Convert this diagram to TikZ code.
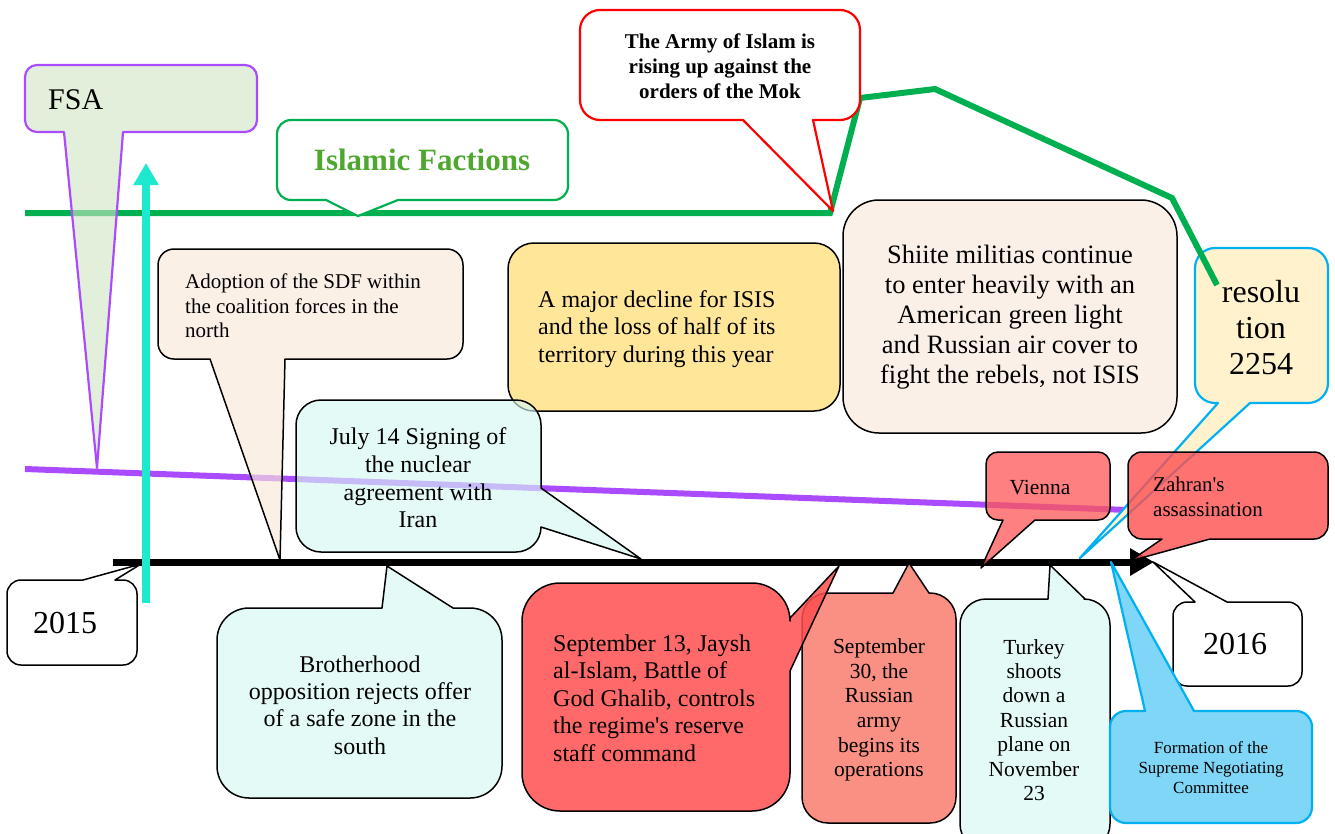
\documentclass[tikz,border=0pt]{standalone}
\usepackage{fontspec}
\setmainfont{Liberation Serif}
\usetikzlibrary{arrows.meta}

\definecolor{peach}{HTML}{FBF0E7}
\definecolor{peachsoft}{HTML}{F9E8D9}
\definecolor{icecyan}{HTML}{E4FAF7}
\definecolor{icesoft}{HTML}{D6F7F3}
\definecolor{fsagreen}{HTML}{CFE4C1}
\definecolor{isisgold}{HTML}{FFE699}
\definecolor{paleyellow}{HTML}{FFF2CC}
\definecolor{rose}{HTML}{FF5656}
\definecolor{redbox}{HTML}{FF4F4F}
\definecolor{salmon}{HTML}{F99083}
\definecolor{skyblue}{HTML}{80D6F6}
\definecolor{cyanline}{HTML}{00B0F0}
\definecolor{factgreen}{HTML}{00B050}
\definecolor{facttext}{HTML}{4EA72E}
\definecolor{fsapurple}{HTML}{AA4BFF}
\definecolor{turq}{HTML}{1DE9CF}

\tikzset{
  bubble/.style={draw=black, line width=1.5pt, line join=round},
  tinted/.style={bubble, draw=#1, line width=2.2pt},
  blurb/.style={inner sep=0pt, align=center},
  sz/.style 2 args={font=\fontsize{#1}{#2}\selectfont},
  szb/.style 2 args={font=\fontsize{#1}{#2}\selectfont\bfseries},
}

\begin{document}
\begin{tikzpicture}[x=1pt,y=-1pt]
\useasboundingbox (0,0) rectangle (1335,833);

% factions lines
\draw[fsapurple, line width=6pt] (25,469) -- (1128,510);
\filldraw[tinted=cyanline, fill=paleyellow] (1261,248) [rounded corners=20pt] -- (1328,248) -- (1328,403) [sharp corners] -- (1250,403) -- (1080,558) -- (1218,403) [rounded corners=20pt] -- (1195,403) -- (1195,248) -- cycle;
\node[blurb, sz={32}{36}] (res) at (1261,328) {resolu\\tion\\2254};
\draw[factgreen, line width=6pt] (25,213) -- (830,213) -- (860,98) -- (935,89) -- (1172,198) -- (1217,285);

% timeline
\draw[line width=7pt, -{Triangle[width=26pt,length=24pt]}] (113,562) -- (1154,562);

% upper bubbles
\filldraw[tinted=fsapurple, fill=fsagreen, fill opacity=0.6] (141,65) [rounded corners=12pt] -- (257,65) -- (257,132) [sharp corners] -- (123,132) -- (97,468) -- (64,132) [rounded corners=12pt] -- (25,132) -- (25,65) -- cycle;
\node[blurb, sz={30}{36}, anchor=west] (fsa) at (48,100) {FSA};

\filldraw[tinted=factgreen, fill=white] (422,120) [rounded corners=14pt] -- (568,120) -- (568,200) [sharp corners] -- (398,200) -- (358,216) -- (326,200) [rounded corners=14pt] -- (277,200) -- (277,120) -- cycle;
\node[blurb, szb={31}{36}, text=facttext] (islamic) at (422,160) {Islamic Factions};

\filldraw[tinted=red, fill=white] (720,10) [rounded corners=20pt] -- (860,10) -- (860,120) [sharp corners] -- (813,120) -- (833,211) -- (743,120) [rounded corners=20pt] -- (580,120) -- (580,10) -- cycle;
\node[blurb, szb={21}{25}] (army) at (720,66) {The Army of Islam is\\rising up against the\\orders of the Mok};

\filldraw[bubble, fill=peachsoft, fill opacity=0.65] (310,249) [rounded corners=16pt] -- (463,249) -- (463,359) [sharp corners] -- (285,359) -- (280,560) -- (210,359) [rounded corners=16pt] -- (158,359) -- (158,249) -- cycle;
\node[blurb, sz={21}{24.5}, align=left, anchor=west] (sdf) at (185,306) {Adoption of the SDF within\\the coalition forces in the\\north};

\filldraw[bubble, fill=isisgold, rounded corners=26pt] (508,243) rectangle (840,411);
\node[blurb, sz={24}{27.5}, align=left, anchor=west] (isis) at (538,329) {A major decline for ISIS\\and the loss of half of its\\territory during this year};

\filldraw[bubble, fill=icesoft, fill opacity=0.65] (418,400) [rounded corners=25pt] -- (541,400) [sharp corners] -- (541,488) -- (641,559) -- (541,527) [rounded corners=25pt] -- (541,552) -- (296,552) -- (296,400) -- cycle;
\node[blurb, sz={24}{27.7}] (nuclear) at (418,478) {July 14 Signing of\\the nuclear\\agreement with\\Iran};

\filldraw[bubble, fill=peach, rounded corners=36pt] (843,200) rectangle (1177,433);
\node[blurb, sz={26.5}{30}] (shiite) at (1010,317) {Shiite militias continue\\to enter heavily with an\\American green light\\and Russian air cover to\\fight the rebels, not ISIS};

\filldraw[bubble, fill=rose, fill opacity=0.75] (1048,452) [rounded corners=12pt] -- (1110,452) -- (1110,520) [sharp corners] -- (1035,520) -- (981,568) -- (1003,520) [rounded corners=12pt] -- (986,520) -- (986,452) -- cycle;
\node[blurb, sz={21.5}{25}] (vienna) at (1040,488) {Vienna};

\filldraw[bubble, fill=redbox, fill opacity=0.8] (1228,452) [rounded corners=14pt] -- (1328,452) -- (1328,539) [sharp corners] -- (1210,539) -- (1130,561) -- (1162,539) [rounded corners=14pt] -- (1128,539) -- (1128,452) -- cycle;
\node[blurb, sz={21}{25}, align=left, anchor=west] (zahran) at (1153,497) {Zahran\textquotesingle s\\assassination};

% lower bubbles
\filldraw[bubble, fill=white] (72,665) [rounded corners=14pt] -- (7,665) -- (7,580) [sharp corners] -- (83,580) -- (141,564) -- (115,580) [rounded corners=14pt] -- (137,580) -- (137,665) -- cycle;
\node[blurb, sz={32}{36}] (y2015) at (65,623) {2015};

\filldraw[bubble, fill=white] (1237,686) [rounded corners=14pt] -- (1173,686) -- (1173,602) [sharp corners] -- (1195,602) -- (1153,562) -- (1227,602) [rounded corners=14pt] -- (1302,602) -- (1302,686) -- cycle;
\node[blurb, sz={32}{36}] (y2016) at (1235,644) {2016};

\filldraw[bubble, fill=icecyan] (360,798) [rounded corners=32pt] -- (217,798) -- (217,608) [sharp corners] -- (382,608) -- (387,566) -- (453,608) [rounded corners=32pt] -- (502,608) -- (502,798) -- cycle;
\node[blurb, sz={24}{27.3}] (brotherhood) at (360,705) {Brotherhood\\opposition rejects offer\\of a safe zone in the\\south};

\filldraw[bubble, fill=salmon] (879,823) [rounded corners=26pt] -- (802,823) -- (802,593) [sharp corners] -- (893,593) -- (909,563) -- (929,593) [rounded corners=26pt] -- (956,593) -- (956,823) -- cycle;
\node[blurb, sz={21.5}{24.6}] (russia) at (879,710) {September\\30, the\\Russian\\army\\begins its\\operations};

\filldraw[bubble, fill=redbox, fill opacity=0.85] (656,583) [rounded corners=38pt] -- (790,583) [sharp corners] -- (790,618) -- (839,566) -- (790,671) [rounded corners=38pt] -- (790,811) -- (522,811) -- (522,583) -- cycle;
\node[blurb, sz={24}{27.5}, align=left, anchor=west] (jaysh) at (553,698) {September 13, Jaysh\\al-Islam, Battle of\\God Ghalib, controls\\the regime\textquotesingle s reserve\\staff command};

\filldraw[bubble, fill=icecyan] (1035,850) [rounded corners=26pt] -- (960,850) -- (960,599) [sharp corners] -- (1048,599) -- (1050,565) -- (1085,599) [rounded corners=26pt] -- (1110,599) -- (1110,850) -- cycle;
\node[blurb, sz={21.5}{24.4}] (turkey) at (1034,720) {Turkey\\shoots\\down a\\Russian\\plane on\\November\\23};

\filldraw[tinted=cyanline, fill=skyblue] (1211,823) [rounded corners=16pt] -- (1110,823) -- (1110,711) [sharp corners] -- (1145,711) -- (1111,562) -- (1194,711) [rounded corners=16pt] -- (1312,711) -- (1312,823) -- cycle;
\node[blurb, sz={17}{20}] (committee) at (1211,768) {Formation of the\\Supreme Negotiating\\Committee};

\draw[turq, line width=7.5pt, -{Triangle[width=24pt,length=22pt]}] (146,603) -- (146,163);
\end{tikzpicture}
\end{document}
